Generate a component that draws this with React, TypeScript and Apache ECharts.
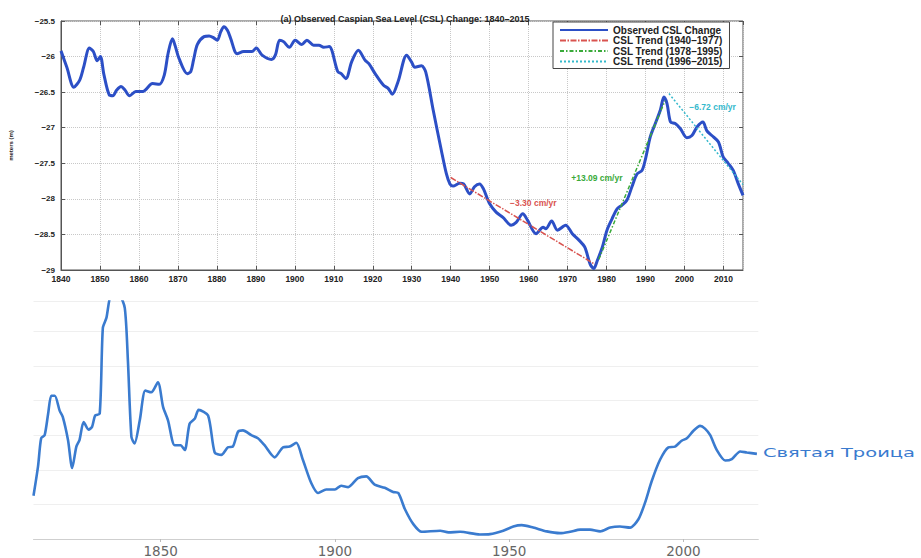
import React, { useEffect, useRef } from "react";
import * as echarts from "echarts";

// ---------- Top chart: observed Caspian Sea level (m) ----------
const topYears = [
  1840.0, 1841.5, 1843.3, 1844.8, 1845.8, 1847.3, 1848.3, 1849.3, 1850.1, 1851.0,
  1852.4, 1853.3, 1854.3, 1855.4, 1856.4, 1857.6, 1859.2, 1861.0, 1863.5, 1865.2,
  1866.5, 1867.5, 1868.6, 1869.3, 1870.3, 1872.4, 1873.3, 1874.0, 1875.0, 1876.7,
  1878.0, 1879.0, 1880.1, 1881.0, 1881.8, 1882.7, 1883.5, 1885.2, 1886.9, 1889.0,
  1890.1, 1891.6, 1894.0, 1895.0, 1896.1, 1897.1, 1898.6, 1900.1, 1901.8, 1903.1,
  1904.8, 1906.2, 1907.4, 1908.8, 1911.0, 1911.9, 1913.1, 1914.6, 1916.3, 1918.0,
  1919.0, 1920.6, 1922.7, 1924.0, 1925.0, 1926.5, 1928.7, 1929.9, 1930.8, 1932.5,
  1933.6, 1935.5, 1937.6, 1938.9, 1939.8, 1940.6, 1942.3, 1943.3, 1944.9, 1946.1,
  1947.4, 1948.4, 1950.0, 1951.7, 1953.4, 1955.5, 1956.8, 1958.5, 1959.7, 1961.9,
  1963.7, 1964.4, 1965.9, 1967.4, 1969.5, 1971.2, 1972.9, 1974.4, 1975.8, 1976.7,
  1977.6, 1978.9, 1980.1, 1981.4, 1982.7, 1983.9, 1985.2, 1986.5, 1987.8, 1989.1,
  1990.1, 1991.2, 1992.5, 1993.8, 1994.7, 1995.5, 1996.4, 1997.6, 1998.9, 2000.6,
  2001.9, 2003.2, 2004.7, 2005.7, 2007.0, 2008.7, 2009.9, 2011.2, 2012.5, 2013.8,
  2015.0,
];
const topLevels = [
  -25.92, -26.15, -26.43, -26.33, -26.15, -25.88, -25.93, -26.06, -26.0, -26.25,
  -26.54, -26.55, -26.47, -26.42, -26.47, -26.55, -26.49, -26.49, -26.38, -26.39,
  -26.26, -25.95, -25.75, -25.85, -26.03, -26.24, -26.21, -26.05, -25.83, -25.72,
  -25.71, -25.73, -25.77, -25.65, -25.58, -25.63, -25.74, -25.96, -25.93, -25.93,
  -25.88, -25.98, -26.04, -25.98, -25.77, -25.79, -25.87, -25.77, -25.83, -25.77,
  -25.84, -25.84, -25.87, -25.86, -26.21, -26.24, -26.31, -26.07, -25.91, -26.05,
  -26.1, -26.24, -26.4, -26.45, -26.53, -26.35, -25.98, -26.07, -26.15, -26.13,
  -26.22, -26.75, -27.32, -27.65, -27.79, -27.82, -27.78, -27.79, -27.93, -27.83,
  -27.79, -27.86, -28.07, -28.19, -28.26, -28.37, -28.33, -28.21, -28.3, -28.49,
  -28.4, -28.42, -28.31, -28.44, -28.37, -28.49, -28.58, -28.68, -28.92, -28.98,
  -28.87, -28.68, -28.44, -28.28, -28.14, -28.09, -28.02, -27.83, -27.65, -27.6,
  -27.41, -27.13, -26.94, -26.75, -26.57, -26.66, -26.92, -26.94, -27.01, -27.14,
  -27.11, -26.99, -26.92, -27.04, -27.11, -27.2, -27.41, -27.5, -27.6, -27.79,
  -27.95,
];

const trend1Years = [1940, 1977];
const trend1Levels = [-27.7, -28.92];
const trend2Years = [1978, 1995];
const trend2Levels = [-28.85, -26.62];
const trend3Years = [1996, 2015];
const trend3Levels = [-26.52, -27.8];

const seriesNames = [
  "Observed CSL Change",
  "CSL Trend (1940\u20131977)",
  "CSL Trend (1978\u20131995)",
  "CSL Trend (1996\u20132015)",
];
const trendLabels = ["\u22123.30 cm/yr", "+13.09 cm/yr", "\u22126.72 cm/yr"];
const trendLabelAt = [
  [1961.2, -28.06],
  [1977.5, -27.71],
  [2007.2, -26.71],
];

const topXMin = 1840;
const topXMax = 2015;
const topYMin = -29;
const topYMax = -25.5;

// ---------- Bottom chart: "Святая Троица" ----------
const botYears = [
  1813.5, 1814.8, 1815.7, 1816.7, 1817.7, 1818.6, 1819.6, 1821.0, 1821.9, 1823.4,
  1824.6, 1825.8, 1826.7, 1827.9, 1829.3, 1830.3, 1831.2, 1832.5, 1833.4, 1834.4,
  1835.8, 1838.2, 1839.7, 1840.6, 1841.6, 1842.5, 1844.0, 1845.6, 1847.3, 1849.2,
  1850.7, 1852.1, 1854.0, 1855.7, 1856.9, 1858.3, 1859.8, 1860.9, 1863.6, 1865.5,
  1867.4, 1869.3, 1870.7, 1872.2, 1873.6, 1876.0, 1877.9, 1879.8, 1882.7, 1885.1,
  1887.0, 1888.9, 1890.8, 1893.2, 1895.2, 1897.5, 1900.0, 1901.8, 1903.8, 1906.6,
  1909.0, 1911.4, 1914.3, 1916.7, 1918.2, 1920.1, 1922.5, 1924.9, 1930.2, 1932.6,
  1935.9, 1941.6, 1944.5, 1948.3, 1951.2, 1953.6, 1956.9, 1960.8, 1964.6, 1967.5,
  1970.4, 1973.2, 1976.1, 1979.0, 1981.8, 1984.7, 1987.1, 1989.0, 1990.9, 1993.3,
  1995.7, 1997.6, 1999.5, 2001.0, 2002.9, 2004.8, 2006.2, 2007.7, 2009.6, 2012.0,
  2013.9, 2016.3, 2018.2, 2021.1,
];
const botValues = [
  1.25, 2.1, 2.91, 3.0, 3.62, 4.14, 4.14, 3.71, 3.53, 2.86,
  2.05, 2.67, 2.86, 3.38, 3.16, 3.24, 3.57, 3.62, 6.1, 6.38,
  7.0, 7.0, 6.67, 5.14, 2.95, 2.76, 3.43, 4.29, 4.24, 4.53,
  3.81, 3.43, 2.71, 2.71, 2.57, 3.33, 3.48, 3.73, 3.57, 2.5,
  2.43, 2.65, 2.67, 3.1, 3.14, 3.0, 2.91, 2.71, 2.36, 2.65,
  2.67, 2.78, 2.29, 1.62, 1.33, 1.43, 1.43, 1.54, 1.5, 1.76,
  1.81, 1.57, 1.48, 1.36, 1.33, 0.86, 0.43, 0.21, 0.24, 0.19,
  0.21, 0.13, 0.14, 0.24, 0.36, 0.4, 0.33, 0.22, 0.17, 0.21,
  0.27, 0.27, 0.22, 0.33, 0.36, 0.33, 0.57, 1.05, 1.67, 2.29,
  2.65, 2.67, 2.84, 2.91, 3.13, 3.27, 3.19, 3.0, 2.57, 2.27,
  2.31, 2.53, 2.5, 2.46,
];
const botSeriesName = "Святая Троица";
const botTickYears = [1850, 1900, 1950, 2000];
const botXMin = 1813.5;
const botXMax = 2021.5;
const botYMin = 0;
const botYMax = 6.86;

const zip = (xs: number[], ys: number[]) => xs.map((x, i) => [x, ys[i]]);
const fmtNeg = (v: number) => (v < 0 ? "\u2212" : "") + String(Math.abs(v));

const W = 921;
const H = 558;

export default function App() {
  const ref = useRef<HTMLDivElement>(null);

  useEffect(() => {
    if (!ref.current) return;
    const chart = echarts.init(ref.current, null, { renderer: "svg", width: W, height: H });

    const txt = "#222";
    const axisCol = "#555";
    const font = "Liberation Sans";
    const blue2 = "#3a7bcf";
    const trendColors = ["#d9534f", "#3aaa3a", "#35b9cc"];
    const dashes = [
      [6, 1.5, 1.5, 1.5],
      [4, 2, 1.5, 2],
      [2, 2],
    ];

    const trendSeries = [
      [trend1Years, trend1Levels],
      [trend2Years, trend2Levels],
      [trend3Years, trend3Levels],
    ].map(([xs, ys], i) => ({
      name: seriesNames[i + 1],
      type: "line",
      xAxisIndex: 0,
      yAxisIndex: 0,
      data: zip(xs as number[], ys as number[]),
      symbol: "none",
      z: 3,
      lineStyle: { color: trendColors[i], width: 1.5, type: dashes[i] },
      itemStyle: { color: trendColors[i] },
      markPoint: {
        symbol: "circle",
        symbolSize: 1,
        itemStyle: { color: "rgba(0,0,0,0)" },
        label: {
          show: true,
          position: "inside",
          formatter: trendLabels[i],
          color: trendColors[i],
          fontSize: 8.5,
          fontWeight: "bold",
          fontFamily: font,
        },
        data: [{ coord: trendLabelAt[i] }],
      },
    }));

    chart.setOption({
      animation: false,
      backgroundColor: "#fff",
      title: {
        text: "(a) Observed Caspian Sea Level (CSL) Change: 1840\u20132015",
        left: 400,
        top: 9,
        textAlign: "center",
        textStyle: { fontSize: 9, fontWeight: "bold", color: txt, fontFamily: font },
      },
      legend: {
        left: 553,
        top: 22,
        orient: "vertical",
        backgroundColor: "#fff",
        borderColor: "#444",
        borderWidth: 1,
        borderRadius: 0,
        padding: [3, 7, 2, 6],
        itemWidth: 48,
        itemHeight: 8,
        itemGap: 0.5,
        data: seriesNames,
        itemStyle: { color: "rgba(0,0,0,0)", borderWidth: 0, opacity: 0 },
        textStyle: { fontSize: 10, fontWeight: "bold", color: txt, fontFamily: font, lineHeight: 9 },
      },
      grid: [
        {
          left: 58,
          right: W - 743,
          top: 21,
          bottom: H - 270,
          show: true,
          borderColor: axisCol,
          borderWidth: 1,
          backgroundColor: "#fff",
        },
        {
          left: 33.5,
          right: W - 758.3,
          top: 301.6,
          bottom: H - 541.7,
        },
      ],
      xAxis: [
        {
          gridIndex: 0,
          type: "value",
          min: topXMin,
          max: topXMax,
          interval: 10,
          axisLine: { show: true, lineStyle: { color: axisCol, width: 1 } },
          axisTick: { show: true, inside: true, length: 4, lineStyle: { color: axisCol } },
          axisLabel: {
            show: true,
            margin: 4,
            fontSize: 8.5,
            fontWeight: "bold",
            color: txt,
            fontFamily: font,
            showMaxLabel: false,
            formatter: (v: number) => String(v),
          },
          splitLine: { show: true, lineStyle: { color: "#c8c8c8", type: "dotted", width: 1 } },
        },
        {
          gridIndex: 0,
          type: "value",
          position: "top",
          min: topXMin,
          max: topXMax,
          interval: 10,
          axisLine: { show: false },
          axisTick: { show: true, inside: true, length: 4, lineStyle: { color: axisCol } },
          axisLabel: { show: false },
          splitLine: { show: false },
        },
        {
          gridIndex: 1,
          type: "value",
          min: botXMin,
          max: botXMax,
          axisLine: { show: true, lineStyle: { color: "#cfcfcf", width: 1 } },
          axisTick: {
            show: true,
            length: 3,
            customValues: botTickYears,
            lineStyle: { color: "#bbb" },
          },
          axisLabel: {
            show: true,
            customValues: botTickYears,
            margin: 5,
            fontSize: 13.5,
            color: "#666",
            fontFamily: "DejaVu Sans",
            formatter: (v: number) => String(v),
          },
          splitLine: { show: false },
        },
      ],
      yAxis: [
        {
          gridIndex: 0,
          type: "value",
          min: topYMin,
          max: topYMax,
          interval: 0.5,
          name: "meters (m)",
          nameLocation: "middle",
          nameGap: 47,
          nameRotate: 90,
          nameTextStyle: { fontSize: 6, fontWeight: "bold", color: txt, fontFamily: font },
          axisLine: { show: true, lineStyle: { color: axisCol, width: 1 } },
          axisTick: { show: true, inside: true, length: 4, lineStyle: { color: axisCol } },
          axisLabel: {
            show: true,
            margin: 6,
            fontSize: 8,
            fontWeight: "bold",
            color: txt,
            fontFamily: font,
            formatter: fmtNeg,
          },
          splitLine: { show: true, lineStyle: { color: "#c8c8c8", type: "dotted", width: 1 } },
        },
        {
          gridIndex: 0,
          type: "value",
          position: "right",
          min: topYMin,
          max: topYMax,
          interval: 0.5,
          axisLine: { show: false },
          axisTick: { show: true, inside: true, length: 4, lineStyle: { color: axisCol } },
          axisLabel: { show: false },
          splitLine: { show: false },
        },
        {
          gridIndex: 1,
          type: "value",
          min: botYMin,
          max: botYMax,
          interval: 1,
          axisLine: { show: false },
          axisTick: { show: false },
          axisLabel: { show: false },
          splitLine: { show: true, lineStyle: { color: "#efefef", width: 1 } },
        },
      ],
      series: [
        {
          name: seriesNames[0],
          type: "line",
          xAxisIndex: 0,
          yAxisIndex: 0,
          data: zip(topYears, topLevels),
          symbol: "none",
          smooth: 0.3,
          z: 2,
          lineStyle: { color: "#2c4fc6", width: 3 },
          itemStyle: { color: "#2c4fc6" },
        },
        ...trendSeries,
        {
          name: botSeriesName,
          type: "line",
          xAxisIndex: 2,
          yAxisIndex: 2,
          data: zip(botYears, botValues),
          symbol: "none",
          smooth: 0.25,
          clip: true,
          lineStyle: { color: blue2, width: 2.6 },
          itemStyle: { color: blue2 },
        },
      ],
    });

    // End label of the bottom series, placed through the axis scales
    const last = botYears.length - 1;
    const p = chart.convertToPixel({ xAxisIndex: 2, yAxisIndex: 2 }, [
      botYears[last],
      botValues[last],
    ]) as number[];
    if (p && isFinite(p[0])) {
      chart.setOption({
        graphic: [
          {
            type: "text",
            x: p[0] + 6,
            y: p[1] - 1,
            scaleX: 1.5,
            style: {
              text: botSeriesName,
              fill: blue2,
              fontSize: 13,
              fontFamily: "DejaVu Sans",
              verticalAlign: "middle",
              align: "left",
            },
          },
        ],
      });
    }

    return () => chart.dispose();
  }, []);

  return (
    <div
      ref={ref}
      style={{ position: "absolute", left: 0, top: 0, width: W, height: H, background: "#fff" }}
    />
  );
}
